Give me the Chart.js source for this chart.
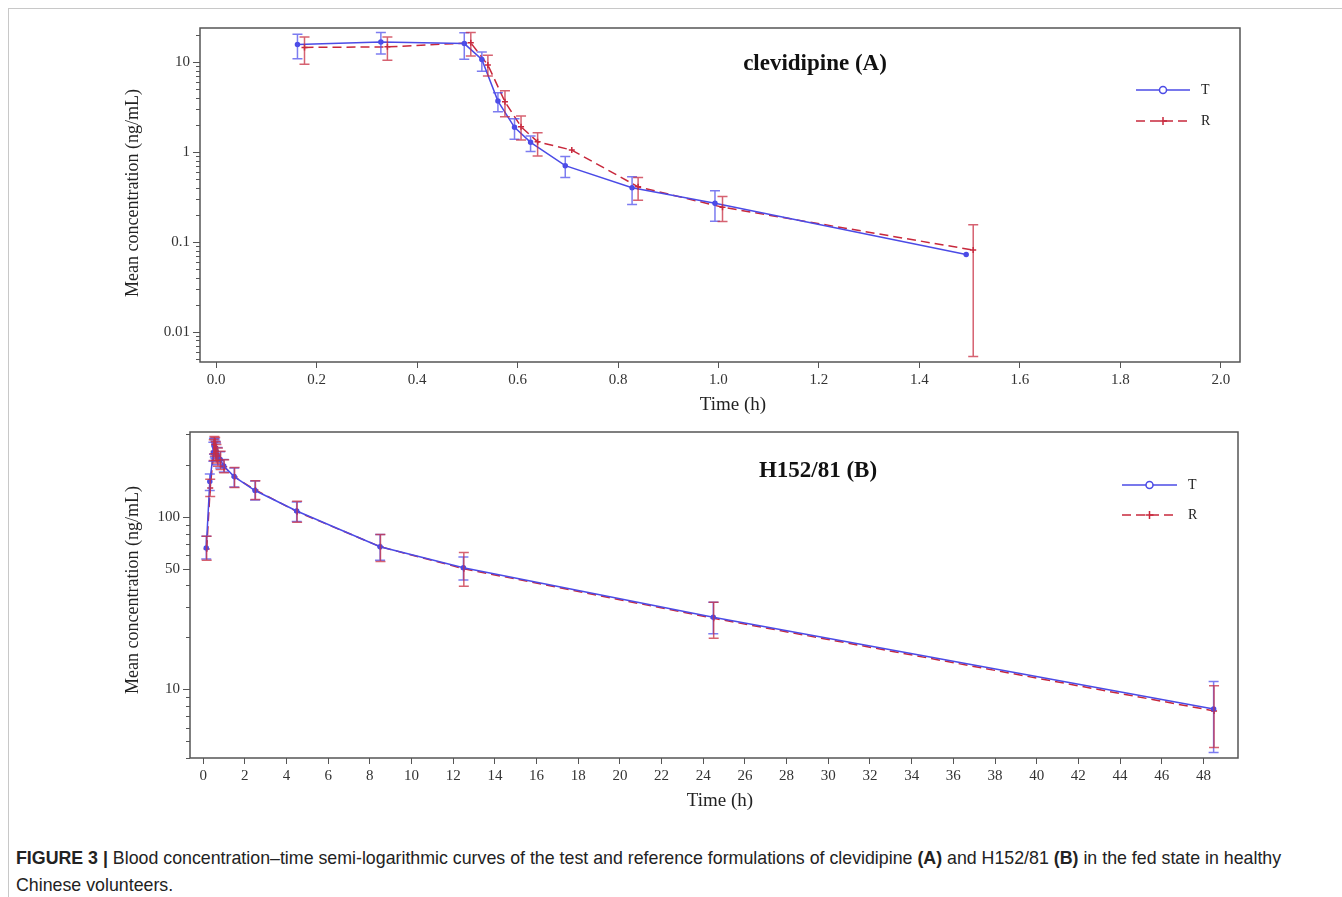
<!DOCTYPE html>
<html>
<head>
<meta charset="utf-8">
<script src="https://cdn.jsdelivr.net/npm/chart.js@4.4.1/dist/chart.umd.min.js"></script>
<style>
  body { margin: 0; background: #fff; width: 1342px; height: 897px; overflow: hidden; position: relative; }
  #frame { position: absolute; left: 8px; top: 8px; right: -2px; bottom: -2px; border-left: 1px solid #c8c8c8; border-top: 1px solid #c8c8c8; }
  #chartA { position: absolute; left: 100px; top: 10px; }
  #chartB { position: absolute; left: 100px; top: 420px; }
  #caption { position: absolute; left: 16px; top: 845px; font-family: "Liberation Sans", Arial, sans-serif; font-size: 17.8px; line-height: 27px; color: #222; white-space: nowrap; }
</style>
</head>
<body>
<div id="frame"></div>
<canvas id="chartA" width="1160" height="420"></canvas>
<canvas id="chartB" width="1160" height="400"></canvas>
<div id="caption"><b>FIGURE 3 |</b> Blood concentration–time semi-logarithmic curves of the test and reference formulations of clevidipine <b>(A)</b> and H152/81 <b>(B)</b> in the fed state in healthy<br>Chinese volunteers.</div>
<script>
// clevidipine (A) - T and R means with SD bars (ng/mL)
const timeA_T = [0.162, 0.328, 0.494, 0.529, 0.561, 0.594, 0.626, 0.695, 0.828, 0.993, 1.493];
const concA_T = [15.7, 16.8, 16.1, 10.7, 3.69, 1.88, 1.28, 0.705, 0.40, 0.269, 0.0723];
const lowA_T = [10.9, 12.3, 10.8, 7.9, 2.8, 1.39, 1.01, 0.52, 0.26, 0.17, null];
const highA_T = [20.5, 21.4, 21.2, 13.0, 4.56, 2.34, 1.51, 0.89, 0.53, 0.37, null];

const timeA_R = [0.176, 0.341, 0.507, 0.541, 0.575, 0.607, 0.640, 0.708, 0.840, 1.008, 1.507];
const concA_R = [14.6, 14.8, 16.4, 9.3, 3.62, 1.91, 1.30, 1.05, 0.41, 0.243, 0.081];
const lowA_R = [9.5, 10.5, 11.7, 7.0, 2.47, 1.36, 0.90, null, 0.29, 0.168, 0.0053];
const highA_R = [19.1, 19.1, 21.4, 11.96, 4.8, 2.51, 1.64, null, 0.52, 0.32, 0.155];

const xTicksA = [0, 0.2, 0.4, 0.6, 0.8, 1.0, 1.2, 1.4, 1.6, 1.8, 2.0];
const yLabelsA = [0.01, 0.1, 1, 10];

// H152/81 (B)
const timeB_T = [0.15, 0.32, 0.49, 0.52, 0.56, 0.59, 0.62, 0.69, 0.82, 0.99, 1.49, 2.49, 4.49, 8.49, 12.49, 24.48, 48.49];
const concB_T = [66, 160, 235, 258, 250, 245, 238, 225, 215, 197, 171, 142, 108, 67, 50.6, 26.2, 7.7];
const lowB_T = [57, 142, 210, 230, 222, 218, 212, 200, 192, 182, 149, 125, 94, 56, 43, 21, 4.3];
const highB_T = [77, 177, 270, 285, 282, 275, 268, 252, 238, 215, 192, 161, 122, 79, 58.4, 32, 11.1];

const timeB_R = [0.17, 0.34, 0.51, 0.54, 0.58, 0.61, 0.64, 0.71, 0.84, 1.01, 1.51, 2.51, 4.51, 8.51, 12.51, 24.5, 48.51];
const concB_R = [65, 147, 240, 262, 255, 240, 232, 222, 212, 195, 170, 143, 107, 67, 50, 25.8, 7.5];
const lowB_R = [56, 131, 212, 232, 225, 212, 205, 196, 188, 180, 148, 126, 93, 55, 39.6, 19.8, 4.6];
const highB_R = [77, 165, 280, 292, 288, 272, 262, 250, 240, 214, 193, 162, 123, 79, 62, 32, 10.5];

const xTicksB = [0, 2, 4, 6, 8, 10, 12, 14, 16, 18, 20, 22, 24, 26, 28, 30, 32, 34, 36, 38, 40, 42, 44, 46, 48];
const yLabelsB = [10, 50, 100];

const BLUE = "#4b4be6";
const RED = "#c8283c";
const SERIF = "'Liberation Serif', 'DejaVu Serif', serif";

const toPoints = (xs, ys) => xs.map((x, i) => ({ x: x, y: ys[i] }));

// log ticks 1..9 x 10^n inside the axis range
function logTicks(min, max) {
    const ticks = [];
    for (let e = -4; e <= 3; e++) {
        for (let k = 1; k <= 9; k++) {
            const v = parseFloat((k * Math.pow(10, e)).toPrecision(6));
            if (v >= min && v <= max) ticks.push({ value: v });
        }
    }
    return ticks;
}

// vertical SD bars with caps
const errorBars = {
    id: "errorBars",
    afterDatasetsDraw(chart) {
        const { ctx, scales: { x, y } } = chart;
        chart.data.datasets.forEach((ds) => {
            ctx.save();
            ctx.strokeStyle = ds.errColor;
            ctx.lineWidth = 1.5;
            ds.data.forEach((p, i) => {
                const lo = ds.errLow[i];
                const hi = ds.errHigh[i];
                if (lo == null || hi == null) return;
                const px = x.getPixelForValue(p.x);
                const y1 = y.getPixelForValue(lo);
                const y2 = y.getPixelForValue(hi);
                ctx.beginPath();
                ctx.moveTo(px, y1); ctx.lineTo(px, y2);
                ctx.moveTo(px - 5, y1); ctx.lineTo(px + 5, y1);
                ctx.moveTo(px - 5, y2); ctx.lineTo(px + 5, y2);
                ctx.stroke();
            });
            ctx.restore();
        });
    },
};

// plot frame, y tick marks, axis titles, panel title and legend
const panelDecor = {
    id: "panelDecor",
    afterDraw(chart, args, opts) {
        const { ctx, chartArea: a, scales: { y } } = chart;
        ctx.save();
        ctx.strokeStyle = "#555";
        ctx.lineWidth = 1.5;
        ctx.strokeRect(a.left, a.top, a.right - a.left, a.bottom - a.top);
        ctx.lineWidth = 1;
        y.ticks.forEach((t) => {
            const py = Math.round(y.getPixelForValue(t.value)) + 0.5;
            const len = t.label ? 7 : 4;
            ctx.beginPath();
            ctx.moveTo(a.left - len, py);
            ctx.lineTo(a.left, py);
            ctx.stroke();
        });

        ctx.fillStyle = "#222";
        ctx.textAlign = "center";
        ctx.textBaseline = "middle";
        ctx.font = "19px " + SERIF;
        ctx.fillText("Time (h)", opts.xTitle[0], opts.xTitle[1]);
        ctx.save();
        ctx.translate(opts.yTitle[0], opts.yTitle[1]);
        ctx.rotate(-Math.PI / 2);
        ctx.font = "18px " + SERIF;
        ctx.fillText("Mean concentration (ng/mL)", 0, 0);
        ctx.restore();

        ctx.fillStyle = "#111";
        ctx.font = "bold 23px " + SERIF;
        ctx.fillText(opts.title, opts.titleX, opts.titleY);

        // legend
        const [lx1, lx2] = opts.legendX;
        const mx = (lx1 + lx2) / 2;
        chart.data.datasets.forEach((ds, i) => {
            const ly = opts.legendY[i];
            ctx.strokeStyle = ds.borderColor;
            ctx.lineWidth = 1.5;
            ctx.setLineDash(ds.borderDash || []);
            ctx.beginPath();
            ctx.moveTo(lx1, ly);
            ctx.lineTo(lx2, ly);
            ctx.stroke();
            ctx.setLineDash([]);
            if (ds.pointStyle === "cross") {
                ctx.beginPath();
                ctx.moveTo(mx - 4, ly); ctx.lineTo(mx + 4, ly);
                ctx.moveTo(mx, ly - 4); ctx.lineTo(mx, ly + 4);
                ctx.stroke();
            } else {
                ctx.fillStyle = "#fff";
                ctx.beginPath();
                ctx.arc(mx, ly, 3.5, 0, Math.PI * 2);
                ctx.fill();
                ctx.stroke();
            }
            ctx.fillStyle = "#222";
            ctx.font = "14px " + SERIF;
            ctx.textAlign = "left";
            ctx.fillText(ds.label, lx2 + 11, ly);
        });
        ctx.restore();
    },
};

function makeDatasets(tx, ty, tlo, thi, rx, ry, rlo, rhi) {
    return [
        {
            label: "T",
            data: toPoints(tx, ty),
            errLow: tlo,
            errHigh: thi,
            errColor: "rgba(80, 80, 235, 0.75)",
            borderColor: BLUE,
            backgroundColor: BLUE,
            borderWidth: 1.5,
            pointStyle: "circle",
            pointRadius: 2,
            tension: 0,
        },
        {
            label: "R",
            data: toPoints(rx, ry),
            errLow: rlo,
            errHigh: rhi,
            errColor: "rgba(200, 45, 65, 0.75)",
            borderColor: RED,
            backgroundColor: RED,
            borderWidth: 1.5,
            borderDash: [9, 5],
            pointStyle: "cross",
            pointRadius: 3,
            pointBorderWidth: 1.5,
            tension: 0,
        },
    ];
}

function makeOptions(cfg) {
    return {
        responsive: false,
        animation: false,
        layout: { padding: cfg.padding },
        plugins: {
            legend: { display: false },
            tooltip: { enabled: false },
            panelDecor: cfg.decor,
        },
        scales: {
            x: {
                type: "linear",
                min: cfg.xMin,
                max: cfg.xMax,
                afterBuildTicks: (s) => { s.ticks = cfg.xTicks.map((v) => ({ value: v })); },
                afterFit: (s) => { s.height = cfg.xHeight; },
                border: { display: false },
                grid: { drawOnChartArea: false, tickLength: 6, tickColor: "#555" },
                ticks: {
                    padding: 3,
                    color: "#333",
                    font: { family: SERIF, size: 15 },
                    maxRotation: 0,
                    autoSkip: false,
                    callback: cfg.xFormat,
                },
            },
            y: {
                type: "logarithmic",
                min: cfg.yMin,
                max: cfg.yMax,
                afterBuildTicks: (s) => { s.ticks = logTicks(cfg.yMin, cfg.yMax); },
                afterFit: (s) => { s.width = cfg.yWidth; },
                border: { display: false },
                grid: { drawOnChartArea: false, tickLength: 7, tickColor: "rgba(0,0,0,0)" },
                ticks: {
                    padding: 3,
                    color: "#333",
                    font: { family: SERIF, size: 15 },
                    autoSkip: false,
                    callback: (v) => (cfg.yLabels.includes(v) ? String(v) : ""),
                },
            },
        },
    };
}

new Chart(document.getElementById("chartA").getContext("2d"), {
    type: "line",
    data: { datasets: makeDatasets(timeA_T, concA_T, lowA_T, highA_T, timeA_R, concA_R, lowA_R, highA_R) },
    options: makeOptions({
        padding: { left: 0, right: 20, top: 18, bottom: 0 },
        xMin: -0.032, xMax: 2.038, xTicks: xTicksA, xHeight: 68,
        xFormat: (v) => Number(v).toFixed(1),
        yMin: 0.0046, yMax: 24, yLabels: yLabelsA, yWidth: 100,
        decor: {
            title: "clevidipine (A)", titleX: 715, titleY: 54,
            legendX: [1036, 1090], legendY: [80, 111],
            xTitle: [633, 395], yTitle: [33, 183],
        },
    }),
    plugins: [errorBars, panelDecor],
});

new Chart(document.getElementById("chartB").getContext("2d"), {
    type: "line",
    data: { datasets: makeDatasets(timeB_T, concB_T, lowB_T, highB_T, timeB_R, concB_R, lowB_R, highB_R) },
    options: makeOptions({
        padding: { left: 0, right: 22, top: 12, bottom: 0 },
        xMin: -0.63, xMax: 49.66, xTicks: xTicksB, xHeight: 62,
        xFormat: (v) => String(v),
        yMin: 4, yMax: 310, yLabels: yLabelsB, yWidth: 90,
        decor: {
            title: "H152/81 (B)", titleX: 718, titleY: 51,
            legendX: [1022, 1077], legendY: [65, 95],
            xTitle: [620, 381], yTitle: [33, 170],
        },
    }),
    plugins: [errorBars, panelDecor],
});
</script>
</body>
</html>
